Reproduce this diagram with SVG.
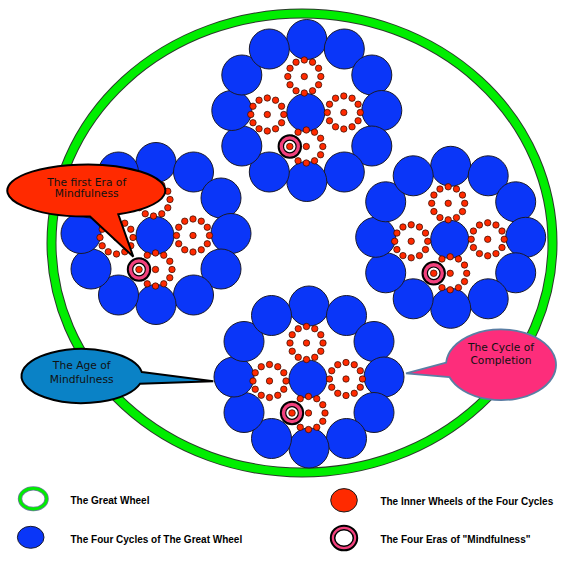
<svg xmlns="http://www.w3.org/2000/svg" width="568" height="561" viewBox="0 0 568 561">
<style>
.blue{fill:#0a36f8;stroke:#1a1a2a;stroke-width:1}
.dot{fill:#ff2a00;stroke:#2a0a00;stroke-width:0.7}
.lbl{font-family:"Liberation Sans",Arial,sans-serif;font-size:10px;font-weight:bold;fill:#000}
.ct{font-family:"DejaVu Sans","Liberation Sans",sans-serif;font-size:10.7px;fill:#111;text-anchor:middle}
</style>
<defs>
<circle id="bc" r="20" class="blue"/>
<circle id="rd" r="3.2" class="dot"/>
<g id="wheel">
<use href="#rd" x="0" y="-16.5"/><use href="#rd" x="8.25" y="-14.29"/><use href="#rd" x="14.29" y="-8.25"/>
<use href="#rd" x="16.5" y="0"/><use href="#rd" x="14.29" y="8.25"/><use href="#rd" x="8.25" y="14.29"/>
<use href="#rd" x="0" y="16.5"/><use href="#rd" x="-8.25" y="14.29"/><use href="#rd" x="-14.29" y="8.25"/>
<use href="#rd" x="-16.5" y="0"/><use href="#rd" x="-14.29" y="-8.25"/><use href="#rd" x="-8.25" y="-14.29"/>
<use href="#rd" x="0" y="0"/>
</g>
<g id="era">
<circle r="11.2" fill="#f2417d" stroke="#000" stroke-width="2"/>
<circle r="6.3" fill="#fff" stroke="#000" stroke-width="1.2"/>
<circle r="3.3" fill="#ff2a00" stroke="#2a0a00" stroke-width="0.7"/>
</g>
<g id="cluster">
<use href="#bc" x="1" y="-73"/><use href="#bc" x="38.5" y="-63.5"/><use href="#bc" x="66" y="-37.5"/>
<use href="#bc" x="76" y="-2"/><use href="#bc" x="66" y="33.5"/><use href="#bc" x="38.5" y="59.5"/>
<use href="#bc" x="1" y="69"/><use href="#bc" x="-36.5" y="59.5"/><use href="#bc" x="-64" y="33.5"/>
<use href="#bc" x="-74" y="-2"/><use href="#bc" x="-64" y="-37.5"/><use href="#bc" x="-36.5" y="-63.5"/>
<circle r="19" class="blue"/>
<use href="#wheel" x="-1.5" y="-36"/>
<use href="#wheel" x="-38.5" y="2"/>
<use href="#wheel" x="38" y="0"/>
<use href="#wheel" x="0.5" y="34"/>
<use href="#era" x="-16" y="34"/>
</g>
</defs>

<g id="great-wheel">
<ellipse cx="302" cy="243" rx="250.5" ry="229.5" fill="none" stroke="#2b3a2b" stroke-width="10"/>
<ellipse cx="302" cy="243" rx="250.5" ry="229.5" fill="none" stroke="#00ee00" stroke-width="8"/>
</g>

<g id="cycle-top"><use href="#cluster" x="305.8" y="112.5"/></g>
<g id="cycle-left"><use href="#cluster" x="155" y="235.5"/></g>
<g id="cycle-right"><use href="#cluster" x="449.7" y="239.3"/></g>
<g id="cycle-bottom"><use href="#cluster" x="308" y="379"/></g>

<g id="callout-first-era">
<path d="M90,216.5 L133.3,256.7 L118.3,214.3 A79 26 0 1 0 90,216.5 Z" fill="#ff2a00" stroke="#000" stroke-width="2" stroke-linejoin="miter"/>
<text class="ct" x="86.7" y="185.5">The first Era of</text>
<text class="ct" x="86.7" y="197.2">Mindfulness</text>
</g>

<g id="callout-age">
<path d="M141.8,372 L213.3,381.3 L140,383.7 A60.5 27 0 1 1 141.8,372 Z" fill="#0a82c6" stroke="#000" stroke-width="2"/>
<text class="ct" x="81.7" y="369.3">The Age of</text>
<text class="ct" x="81.7" y="383">Mindfulness</text>
</g>

<g id="callout-cycle">
<path d="M446.1,362.7 L406,373.3 L449.4,377 A55 35.4 0 1 0 446.1,362.7 Z" fill="#fd2d7b" stroke="#5a7ea4" stroke-width="1.8"/>
<text class="ct" x="501" y="351">The Cycle of</text>
<text class="ct" x="501" y="364.3">Completion</text>
</g>

<g id="legend-great-wheel">
<ellipse cx="33.3" cy="498.7" rx="13.3" ry="10.3" fill="#fff" stroke="#6a7f99" stroke-width="4.4"/>
<ellipse cx="33.3" cy="498.7" rx="13.3" ry="10.3" fill="none" stroke="#00ee00" stroke-width="2.8"/>
<text class="lbl" x="70.5" y="504.3">The Great Wheel</text>
</g>
<g id="legend-four-cycles">
<ellipse cx="30.7" cy="537.3" rx="13.3" ry="11" class="blue"/>
<text class="lbl" x="70.5" y="542.8">The Four Cycles of The Great Wheel</text>
</g>
<g id="legend-inner-wheels">
<ellipse cx="344" cy="500.3" rx="13.3" ry="11.7" fill="#ff2a00" stroke="#1a1a1a" stroke-width="1"/>
<text class="lbl" x="380.4" y="504.5">The Inner Wheels of the Four Cycles</text>
</g>
<g id="legend-eras">
<ellipse cx="344" cy="538" rx="13.2" ry="12.3" fill="#f2417d" stroke="#000" stroke-width="2"/>
<ellipse cx="344" cy="538" rx="9.3" ry="8.2" fill="#fff" stroke="#000" stroke-width="1.5"/>
<text class="lbl" x="380.4" y="542.5">The Four Eras of "Mindfulness"</text>
</g>
</svg>
